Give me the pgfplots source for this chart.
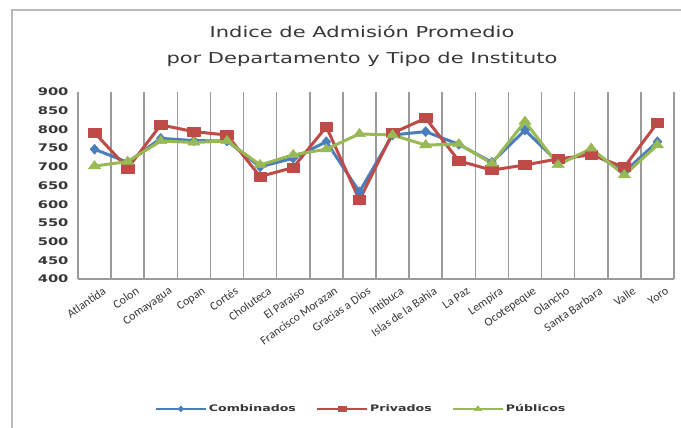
\documentclass[border=0pt]{standalone}
\usepackage{pgfplots}
\pgfplotsset{compat=1.18}
\usepackage{pgfplotstable}
\usepackage{fontspec}
\setmainfont{DejaVu Sans}[FakeStretch=1.4]
\newfontfamily\labfont{Carlito}
\definecolor{cblue}{RGB}{74,126,187}
\definecolor{cred}{RGB}{190,75,72}
\definecolor{cgreen}{RGB}{152,185,84}
\definecolor{gridc}{RGB}{155,155,155}
\definecolor{txt}{RGB}{55,55,55}
\pgfplotstableread{
x comb priv pub
0 747 791 702
1 712 696 714
2 776 812 769
3 770 794 765
4 769 785 769
5 700 674 705
6 723 698 732
7 767 807 747
8 633 611 788
9 785 790 785
10 794 830 758
11 760 716 761
12 712 691 709
13 798 705 821
14 712 721 705
15 740 732 749
16 686 699 678
17 767 818 758
}\datatable
\begin{document}
\begin{tikzpicture}
\path[use as bounding box] (-78pt,-149pt) rectangle (603pt,279pt);
\draw[gridc!70, line width=1.2pt] (-66pt,-149pt) -- (-66pt,269pt) -- (603pt,269pt);
\begin{axis}[
  scale only axis, width=596pt, height=187pt,
  xmin=-0.5, xmax=17.5, ymin=400, ymax=900,
  ytick={400,450,...,900},
  xtick={0,...,17},
  xticklabels={Atlantida,Colon,Comayagua,Copan,Cortés,Choluteca,El Paraiso,Francisco Morazan,Gracias a Dios,Intibuca,Islas de la Bahia,La Paz,Lempira,Ocotepeque,Olancho,Santa Barbara,Valle,Yoro},
  minor xtick={-0.5,0.5,...,17.5},
  xminorgrids, minor grid style={gridc, line width=1.5pt},
  major tick length=0pt, minor tick length=0pt,
  axis x line*=bottom, axis y line*=left,
  axis line style={-, gridc, line width=1.5pt},
  /pgf/number format/assume math mode=true,
  yticklabel style={font=\bfseries\fontsize{10.5}{12}\selectfont, text=txt, xshift=-6pt},
  xticklabel style={font=\labfont\fontsize{12}{13}\selectfont, text=txt, rotate=35, anchor=north east, inner sep=1pt, yshift=-9pt, xshift=3pt},
  legend style={draw=none, fill=none, at={(0.475,-0.695)}, anchor=center, font=\bfseries\fontsize{9}{11}\selectfont, text=txt,
     /tikz/every even column/.append style={column sep=18pt}},
  legend columns=3,
  legend image code/.code={\draw[mark repeat=2,mark phase=2, line width=2.2pt, /tikz/every mark/.append style={scale=0.6}] plot coordinates {(0pt,0pt) (25pt,0pt) (50pt,0pt)};},
  every axis plot/.append style={line width=3pt, line join=round},
]
\addplot[cblue, mark=diamond*, mark size=5pt, mark options={xscale=1.2, line width=0.5pt}] table[x=x,y=comb] {\datatable};
\addplot[cred, mark=square*, mark size=4.5pt, mark options={xscale=1.4, line width=0.5pt}] table[x=x,y=priv] {\datatable};
\addplot[cgreen, mark=triangle*, mark size=5.5pt, mark options={xscale=1.3, line width=0.5pt}] table[x=x,y=pub] {\datatable};
\legend{Combinados,Privados,Públicos}
\end{axis}
\node[align=center, text=txt, font=\fontsize{15}{26}\selectfont] at (284pt,233pt) {Indice de Admisión Promedio\\por Departamento y Tipo de Instituto};
\end{tikzpicture}
\end{document}
